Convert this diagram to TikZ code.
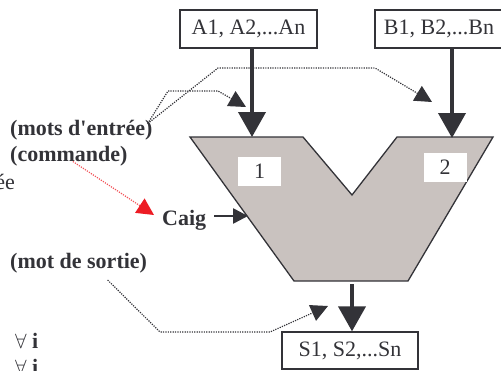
\documentclass[tikz,border=0pt]{standalone}
\usepackage{fontspec}
\setmainfont{Liberation Serif}
\usetikzlibrary{arrows.meta}
\definecolor{ink}{RGB}{51,51,56}
\definecolor{body}{RGB}{201,194,191}
\definecolor{cmd}{RGB}{237,28,36}

\begin{document}
\begin{tikzpicture}[x=1pt, y=-1pt, font=\fontsize{22}{26}\selectfont,
  word/.style={draw=ink, line width=1.3pt, fill=white, text=ink, minimum width=137pt, minimum height=38pt, inner sep=0pt},
  tag/.style={fill=white, text=ink, minimum width=43pt, minimum height=29pt, inner sep=0pt},
  lbl/.style={anchor=base west, inner sep=0pt, font=\fontsize{22}{26}\selectfont\bfseries, text=ink},
  bus/.style={-{Triangle[width=27pt,length=25pt]}, line width=4pt, draw=ink},
  ptr/.style={-{Triangle[width=17pt,length=17pt]}, line width=1.2pt, dash pattern=on 1.2pt off 1.2pt, draw=ink},
  cmdptr/.style={ptr, draw=cmd!75, -{Triangle[width=17pt,length=17pt,color=cmd]}}]
\useasboundingbox (0,0) rectangle (501,370);

% operand and result registers
\node[word] (boxA) at (248.5,29) {A1, A2,...An};
\node[word, minimum width=128pt] (boxB) at (439,29) {B1, B2,...Bn};
\node[word, minimum width=136pt, minimum height=37pt] (boxS) at (350,350.5) {S1, S2,...Sn};

% the two-input unit
\draw[draw=ink, line width=1.3pt, fill=body] (190,137) -- (303,137) -- (352,195) -- (397,137)
  -- (493,137) -- (408,281) -- (294,281) -- cycle;
\node[tag] (t1) at (259.5,171.5) {1};
\node[tag] (t2) at (445,167) {2};

\coordinate (inA) at (252,137);
\coordinate (inB) at (452,138);
\coordinate (outS) at (352,284);
\coordinate (cIn) at (248,216);
\coordinate (tipA) at (246,107);
\coordinate (tipB) at (432,102);
\coordinate (tipC) at (154,215);
\coordinate (tipS) at (328,306);

\draw[bus] (boxA.south -| inA) -- (inA);
\draw[bus] (boxB.south -| inB) -- (inB);
\draw[bus] (outS) -- (outS |- boxS.north);

% side labels
\node[lbl] (entree) at (10,135) {(mots d\textquotesingle entrée)};
\node[lbl] (cmdlbl) at (10,161.5) {(commande)};
\node[lbl, anchor=base east, font=\fontsize{22}{26}\selectfont] (frag) at (15,189) {ée};
\node[lbl] (caig) at (162,225) {Caig};
\node[lbl] (sortie) at (10,268) {(mot de sortie)};
\node[lbl] (all1) at (15,348) {$\forall$ i};
\node[lbl] (all2) at (15,374) {$\forall$ i};

\draw[line width=2.6pt, draw=ink, -{Triangle[width=15pt,length=15pt]}] ([xshift=8pt]caig.east |- cIn) -- (cIn);

% dotted pointers
\draw[ptr] ([xshift=-5pt,yshift=-4pt]entree.north east) -- (168,91) -- (218,91) -- (tipA);
\draw[ptr] ([xshift=-5pt,yshift=-4pt]entree.north east) -- (218,68) -- (375,68) -- (tipB);
\draw[cmdptr] ([xshift=4pt]cmdlbl.base) -- (tipC);
\draw[ptr] ([xshift=29pt,yshift=-12pt]sortie.base) -- (160,332) -- (270,332) -- (tipS);
\end{tikzpicture}
\end{document}
